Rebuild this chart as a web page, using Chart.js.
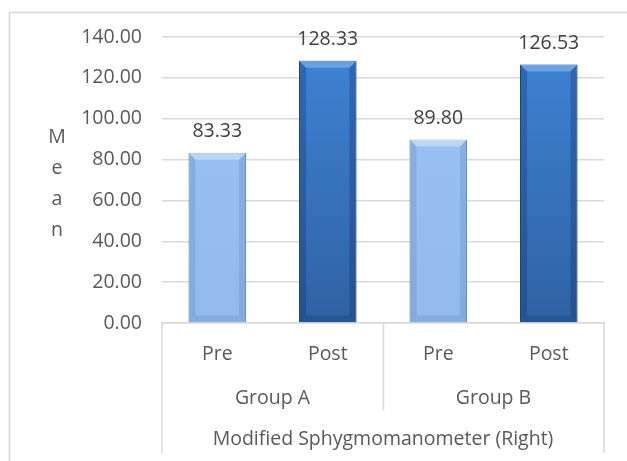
<!DOCTYPE html>
<html>
<head>
<meta charset="utf-8">
<script src="https://cdn.jsdelivr.net/npm/chart.js@4"></script>
<style>
  html, body { margin: 0; padding: 0; background: #fff; }
  #wrap { width: 627px; height: 461px; }
</style>
</head>
<body>
<div id="wrap"><canvas id="chart" width="627" height="461"></canvas></div>
<script>
// chart data
const phases = ['Pre', 'Post', 'Pre', 'Post'];
const groups = ['Group A', 'Group B'];
const measure = ['Modified Sphygmomanometer (Right)'];
const means = [83.33, 128.33, 89.80, 126.53];
const yTicks = [0, 20, 40, 60, 80, 100, 120, 140];
const yTitle = 'Mean';

const FONT = '"Open Sans", "Noto Sans", sans-serif';
const FSIZE = 19.5;
const TXT = '#595959';
const LINE = '#d9d9d9';

// vertical gradient for each bar, light for Pre, dark for Post
function barFill(ctx) {
  const area = ctx.chart.chartArea;
  if (!area) return '#95bdee';
  const g = ctx.chart.ctx.createLinearGradient(0, area.top, 0, area.bottom);
  if (ctx.dataIndex % 2 === 0) {
    g.addColorStop(0, '#9cc3f2');
    g.addColorStop(1, '#93baeb');
  } else {
    g.addColorStop(0, '#3f84d6');
    g.addColorStop(1, '#2f62a4');
  }
  return g;
}

const decor = {
  id: 'decor',
  beforeDraw(chart) {
    const c = chart.ctx;
    c.save();
    c.strokeStyle = '#d6d6d6';
    c.lineWidth = 1.5;
    c.strokeRect(9.5, 12.5, 800, 600);
    c.restore();
  },
  afterDatasetsDraw(chart) {
    const c = chart.ctx;
    const meta = chart.getDatasetMeta(0);
    c.save();
    meta.data.forEach((bar, i) => {
      const w = bar.width;
      const l = bar.x - w / 2, r = bar.x + w / 2;
      const t = bar.y, b = bar.base;
      const bev = 7;
      // top bevel
      c.fillStyle = i % 2 === 0 ? 'rgba(255,255,255,0.35)' : 'rgba(140,190,245,0.55)';
      c.beginPath();
      c.moveTo(l, t); c.lineTo(r, t); c.lineTo(r - bev, t + bev); c.lineTo(l + bev, t + bev);
      c.closePath(); c.fill();
      // side shading
      c.fillStyle = i % 2 === 0 ? 'rgba(60,100,160,0.18)' : 'rgba(10,40,90,0.28)';
      c.beginPath();
      c.moveTo(l, t); c.lineTo(l + bev, t + bev); c.lineTo(l + bev, b - bev); c.lineTo(l, b);
      c.closePath(); c.fill();
      c.beginPath();
      c.moveTo(r, t); c.lineTo(r - bev, t + bev); c.lineTo(r - bev, b - bev); c.lineTo(r, b);
      c.closePath(); c.fill();
      // bottom shading
      c.fillStyle = i % 2 === 0 ? 'rgba(60,100,160,0.14)' : 'rgba(10,40,90,0.22)';
      c.beginPath();
      c.moveTo(l, b); c.lineTo(l + bev, b - bev); c.lineTo(r - bev, b - bev); c.lineTo(r, b);
      c.closePath(); c.fill();
      // value label
      c.fillStyle = '#404040';
      c.font = FSIZE + 'px ' + FONT;
      c.textAlign = 'center';
      c.textBaseline = 'alphabetic';
      c.fillText(means[i].toFixed(2), bar.x, t - 16);
    });
    c.restore();

    // y title letters stacked
    const area = chart.chartArea;
    const mid = (area.top + area.bottom) / 2 + 4;
    c.save();
    c.fillStyle = TXT;
    c.font = FSIZE + 'px ' + FONT;
    c.textAlign = 'center';
    c.textBaseline = 'middle';
    yTitle.split('').forEach((ch, k) => {
      c.fillText(ch, 57, mid + (k - 1.5) * 31);
    });
    c.restore();

    // multi-level category frame
    const x = chart.scales.x;
    const grp = chart.scales.grp;
    c.save();
    c.strokeStyle = LINE;
    c.lineWidth = 1.5;
    c.beginPath();
    c.moveTo(area.left, area.bottom); c.lineTo(area.left, 453);
    c.moveTo(area.right, area.bottom); c.lineTo(area.right, 453);
    const split = Math.round(x.getPixelForValue(1.5)) + 0.5;
    c.moveTo(split, area.bottom); c.lineTo(split, grp.bottom - 2);
    c.stroke();
    c.restore();
  }
};

new Chart(document.getElementById('chart'), {
  type: 'bar',
  data: {
    labels: phases,
    datasets: [{
      data: means,
      backgroundColor: barFill,
      borderColor: means.map((v, i) => i % 2 === 0 ? '#7396c8' : '#234c80'),
      borderWidth: 1,
      categoryPercentage: 1,
      barPercentage: 0.52
    }]
  },
  options: {
    responsive: false,
    animation: false,
    layout: { padding: { left: 0, right: 23, top: 37, bottom: 4 } },
    plugins: { legend: { display: false }, tooltip: { enabled: false } },
    scales: {
      y: {
        min: 0,
        max: 140,
        afterBuildTicks: (s) => { s.ticks = yTicks.map(v => ({ value: v })); },
        afterFit: (s) => { s.width = 162; },
        ticks: {
          padding: 20,
          color: TXT,
          font: { family: FONT, size: FSIZE },
          callback: (v) => Number(v).toFixed(2)
        },
        grid: { color: LINE, lineWidth: 1.5, drawTicks: false },
        border: { display: false }
      },
      x: {
        position: 'bottom',
        afterFit: (s) => { s.height = 53; },
        ticks: { padding: 12, color: TXT, font: { family: FONT, size: FSIZE } },
        grid: { display: false },
        border: { display: true, color: LINE, width: 1.5 }
      },
      grp: {
        type: 'category',
        position: 'bottom',
        labels: groups,
        offset: true,
        afterFit: (s) => { s.height = 36; },
        ticks: { padding: 3, color: TXT, font: { family: FONT, size: FSIZE } },
        grid: { display: false },
        border: { display: false }
      },
      ttl: {
        type: 'category',
        position: 'bottom',
        labels: measure,
        offset: true,
        afterFit: (s) => { s.height = 45; },
        ticks: { padding: 8, color: TXT, font: { family: FONT, size: FSIZE } },
        grid: { display: false },
        border: { display: false }
      }
    }
  },
  plugins: [decor]
});
</script>
</body>
</html>
